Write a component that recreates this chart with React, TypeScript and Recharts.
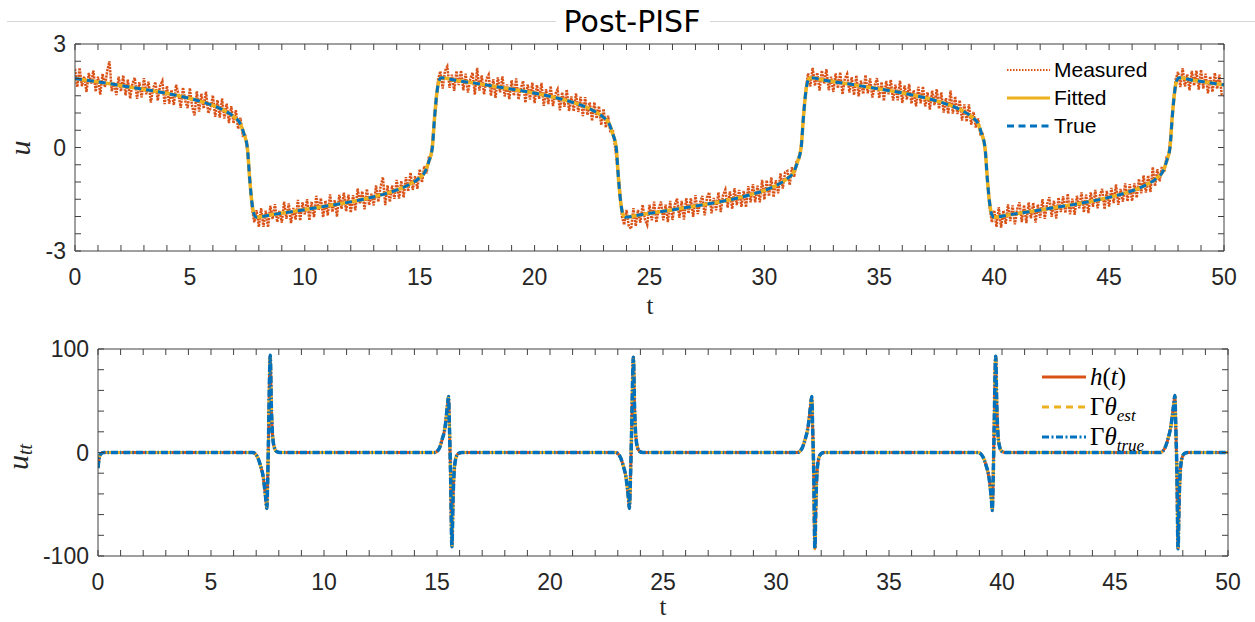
import React from 'react'
import { LineChart, Line, XAxis, YAxis, Legend } from 'recharts'

const BLUE = '#0072BD'
const RED = '#D95319'
const YELLOW = '#EDB120'
const AXIS = '#404040'
const TEXT = '#262626'
const TICK_LEN = 6
const SANS = '"Liberation Sans", Arial, sans-serif'
const SERIF = '"Liberation Serif", "Times New Roman", serif'

// axis ticks
const tTicks = [0, 1, 2, 3, 4, 5, 6, 7, 8, 9, 10, 11, 12, 13, 14, 15, 16, 17, 18, 19, 20, 21, 22, 23, 24, 25,
  26, 27, 28, 29, 30, 31, 32, 33, 34, 35, 36, 37, 38, 39, 40, 41, 42, 43, 44, 45, 46, 47, 48, 49, 50]
const tTickLabels = [0, 5, 10, 15, 20, 25, 30, 35, 40, 45, 50]
const uTicks = [-3, -2.5, -2, -1.5, -1, -0.5, 0, 0.5, 1, 1.5, 2, 2.5, 3]
const uTickLabels = [-3, 0, 3]
const uttTicks = [-100, -80, -60, -40, -20, 0, 20, 40, 60, 80, 100]
const uttTickLabels = [-100, 0, 100]

// true / fitted solution u(t)
const trueT = [0, 0.5, 1.5, 2.5, 3.5, 4.5, 5.5, 6.0, 6.5, 6.9, 7.2, 7.35, 7.5, 7.6, 7.7, 7.8, 7.9,
  8.55, 9.55, 10.55, 11.55, 12.55, 13.55, 14.05, 14.55, 14.95, 15.25, 15.4, 15.55, 15.65, 15.75, 15.85, 15.95,
  16.55, 17.55, 18.55, 19.55, 20.55, 21.55, 22.05, 22.55, 22.95, 23.25, 23.4, 23.55, 23.65, 23.75, 23.85, 23.95,
  24.6, 25.6, 26.6, 27.6, 28.6, 29.6, 30.1, 30.6, 31.0, 31.3, 31.45, 31.6, 31.7, 31.8, 31.9, 32.0,
  32.6, 33.6, 34.6, 35.6, 36.6, 37.6, 38.1, 38.6, 39.0, 39.3, 39.45, 39.6, 39.7, 39.8, 39.9, 40.0,
  40.65, 41.65, 42.65, 43.65, 44.65, 45.65, 46.15, 46.65, 47.05, 47.35, 47.5, 47.65, 47.75, 47.85, 47.95, 48.05,
  48.65, 49.65, 50]
const trueU = [2.0, 1.95, 1.85, 1.74, 1.63, 1.5, 1.33, 1.22, 1.07, 0.9, 0.68, 0.4, 0, -0.9, -1.6, -1.95, -2.02,
  -1.95, -1.85, -1.74, -1.63, -1.5, -1.33, -1.22, -1.07, -0.9, -0.68, -0.4, 0, 0.9, 1.6, 1.95, 2.02,
  1.95, 1.85, 1.74, 1.63, 1.5, 1.33, 1.22, 1.07, 0.9, 0.68, 0.4, 0, -0.9, -1.6, -1.95, -2.02,
  -1.95, -1.85, -1.74, -1.63, -1.5, -1.33, -1.22, -1.07, -0.9, -0.68, -0.4, 0, 0.9, 1.6, 1.95, 2.02,
  1.95, 1.85, 1.74, 1.63, 1.5, 1.33, 1.22, 1.07, 0.9, 0.68, 0.4, 0, -0.9, -1.6, -1.95, -2.02,
  -1.95, -1.85, -1.74, -1.63, -1.5, -1.33, -1.22, -1.07, -0.9, -0.68, -0.4, 0, 0.9, 1.6, 1.95, 2.02,
  1.95, 1.85, 1.82]

// noisy measurements, one every 0.1 from t = 0
const MEASURED_DT = 0.1
const measuredU = [
  2.28, 1.75, 2.31, 1.78, 2.06, 1.61, 2.16, 1.85, 2.23, 1.62,
  2.05, 1.53, 2.14, 1.75, 2.21, 2.50, 1.63, 1.88, 1.52, 2.05,
  1.63, 2.09, 1.51, 1.97, 1.42, 1.86, 2.02, 1.41, 1.89, 1.45,
  2.01, 1.54, 1.91, 1.30, 1.72, 1.90, 1.36, 1.79, 1.93, 1.26,
  1.78, 1.27, 1.67, 1.23, 1.82, 1.56, 1.15, 1.74, 1.35, 1.14,
  1.72, 1.18, 0.93, 1.63, 1.04, 1.56, 1.13, 1.62, 0.99, 1.15,
  1.51, 0.89, 1.37, 0.87, 1.42, 0.84, 1.27, 0.71, 1.20, 0.70,
  1.08, 0.54, 0.86, 0.35, 0.39, -0.10, -0.80, -1.75, -2.17, -1.82,
  -2.30, -1.76, -2.30, -1.83, -2.31, -1.69, -2.07, -1.64, -2.16, -1.83,
  -2.18, -1.57, -2.07, -1.62, -2.19, -1.75, -2.09, -1.52, -2.12, -1.59,
  -1.94, -1.50, -2.11, -1.57, -2.02, -1.40, -1.82, -1.47, -2.02, -1.54,
  -1.97, -1.36, -1.87, -1.53, -2.00, -1.37, -1.78, -1.31, -1.85, -1.37,
  -1.89, -1.38, -1.82, -1.19, -1.63, -1.27, -1.79, -1.20, -1.67, -1.34,
  -1.68, -1.10, -1.58, -1.12, -0.86, -1.67, -1.10, -1.58, -1.10, -1.49,
  -0.94, -1.48, -0.97, -1.45, -0.86, -1.27, -0.73, -1.23, -0.83, -1.20,
  -0.63, -1.01, -0.54, -0.75, -0.28, -0.23, 0.55, 1.13, 1.98, 2.21,
  1.71, 2.22, 2.35, 1.73, 2.11, 1.64, 2.22, 1.81, 2.23, 1.66,
  2.14, 1.59, 1.98, 2.17, 1.53, 2.31, 1.65, 2.09, 1.54, 1.98,
  2.11, 1.50, 1.98, 1.44, 2.03, 1.60, 2.06, 1.48, 1.83, 1.40,
  1.95, 1.50, 2.00, 1.39, 1.72, 1.93, 1.30, 1.83, 1.39, 1.88,
  1.29, 1.81, 1.41, 1.87, 1.21, 1.69, 1.26, 1.78, 1.20, 1.55,
  1.69, 1.08, 1.60, 1.18, 1.68, 1.06, 1.48, 1.05, 1.57, 1.03,
  1.47, 0.91, 1.46, 0.94, 1.31, 0.77, 1.31, 0.84, 1.20, 0.65,
  1.12, 0.58, 0.92, 0.44, 0.52, 0.03, -0.55, -1.13, -2.00, -2.24,
  -1.81, -2.28, -2.36, -1.76, -2.28, -1.81, -2.18, -1.66, -2.08, -2.24,
  -1.66, -2.11, -1.57, -2.17, -1.77, -1.57, -2.11, -1.66, -2.16, -1.55,
  -2.10, -1.66, -1.48, -2.04, -1.55, -2.09, -1.47, -1.91, -1.47, -2.01,
  -1.38, -1.93, -1.60, -1.40, -1.97, -1.45, -1.30, -1.91, -1.46, -1.82,
  -1.30, -1.87, -1.38, -1.22, -1.74, -1.27, -1.78, -1.18, -1.67, -1.23,
  -1.72, -1.26, -1.73, -1.12, -1.59, -1.06, -1.59, -1.11, -1.59, -0.94,
  -1.51, -0.95, -1.41, -0.87, -1.44, -0.95, -1.33, -0.75, -1.19, -0.72,
  -0.68, -1.09, -0.57, -0.85, -0.36, -0.37, 0.08, 0.80, 1.70, 2.15,
  1.77, 2.31, 1.79, 2.17, 1.65, 2.23, 1.85, 2.27, 1.66, 2.05,
  1.61, 2.15, 1.72, 2.18, 1.54, 2.00, 2.13, 1.59, 2.04, 1.52,
  2.09, 1.48, 1.94, 1.55, 2.10, 1.57, 2.00, 1.45, 1.80, 2.01,
  1.43, 1.90, 1.35, 1.93, 1.54, 1.96, 1.36, 1.82, 1.37, 1.94,
  1.29, 1.80, 1.39, 1.84, 1.27, 1.66, 1.19, 1.76, 1.28, 1.77,
  1.19, 1.60, 1.10, 1.65, 1.23, 1.69, 1.12, 1.60, 1.01, 1.43,
  0.98, 1.65, 0.98, 1.48, 0.97, 1.37, 0.78, 1.25, 0.75, 1.25,
  0.66, 1.03, 0.58, 0.84, 0.38, 0.39, -0.08, -0.80, -1.75, -2.17,
  -1.82, -2.30, -1.73, -2.32, -1.83, -2.21, -1.65, -2.13, -1.68, -2.23,
  -1.79, -1.59, -2.16, -1.67, -2.19, -1.59, -2.05, -1.60, -2.18, -1.65,
  -2.04, -1.50, -2.07, -1.64, -1.44, -2.01, -1.54, -2.06, -1.45, -1.87,
  -1.41, -1.90, -1.34, -1.94, -1.48, -1.95, -1.40, -1.76, -1.30, -1.88,
  -1.37, -1.90, -1.30, -1.72, -1.23, -1.76, -1.39, -1.20, -1.79, -1.26,
  -1.71, -1.17, -1.61, -1.07, -1.66, -1.20, -1.57, -1.04, -1.56, -1.06,
  -1.55, -1.04, -1.46, -0.91, -1.33, -0.81, -1.31, -0.81, -1.29, -0.57,
  -1.12, -0.63, -0.98, -0.55, -0.72, -0.28, -0.21, 0.55, 1.37, 1.98,
  2.19, 1.75, 2.30, 1.77, 2.12, 1.66, 2.22, 1.79, 2.23, 1.68,
  2.25, 1.71, 2.14, 1.57, 2.06, 1.61, 2.16, 1.70, 2.11, 1.54,
  1.50,
]

// second derivative u_tt (h(t), Γθ_est and Γθ_true coincide)
const uttT = [0, 0.05, 0.12, 0.25,
  6.85, 7.05, 7.18, 7.32, 7.42, 7.47, 7.51, 7.55, 7.62, 7.67, 7.72, 7.8, 7.9, 8.05,
  14.9, 15.1, 15.22, 15.36, 15.46, 15.51, 15.55, 15.6, 15.66, 15.71, 15.76, 15.84, 15.94, 16.1,
  22.9, 23.1, 23.23, 23.37, 23.47, 23.51, 23.56, 23.61, 23.69, 23.74, 23.79, 23.87, 23.97, 24.1,
  30.95, 31.15, 31.28, 31.42, 31.53, 31.58, 31.62, 31.67, 31.72, 31.77, 31.82, 31.9, 32.0, 32.15,
  38.95, 39.15, 39.29, 39.43, 39.53, 39.57, 39.61, 39.65, 39.72, 39.77, 39.82, 39.9, 40.0, 40.15,
  47.0, 47.2, 47.33, 47.47, 47.59, 47.65, 47.69, 47.74, 47.79, 47.84, 47.89, 47.97, 48.07, 48.22,
  50]
const uttV = [-15, -6, -1.5, 0,
  0, -4, -12, -25, -44, -54, -25, 20, 94, 45, 18, 5, 1, 0,
  0, 4, 12, 25, 45, 54, 25, -20, -91, -45, -18, -5, -1, 0,
  0, -4, -12, -25, -44, -54, -25, 20, 92, 45, 18, 5, 1, 0,
  0, 4, 12, 25, 45, 54, 25, -20, -93, -45, -18, -5, -1, 0,
  0, -4, -12, -25, -45, -56, -25, 20, 93, 45, 18, 5, 1, 0,
  0, 4, 12, 25, 45, 55, 25, -20, -93, -45, -18, -5, -1, 0,
  0]

const trueData = trueT.map((t, i) => ({ t, u: trueU[i] }))
const measuredData = measuredU.map((u, i) => ({ t: +(i * MEASURED_DT).toFixed(1), u }))
const uttData = uttT.map((t, i) => ({ t, h: uttV[i], est: uttV[i], tru: uttV[i] }))

// MATLAB style ticks: pointing into the box, labels only on some
const bottomTick = (labels: number[]) => (p: any) => {
  const v = p.payload.value
  return (
    <g>
      <line x1={p.x} x2={p.x} y1={p.y} y2={p.y - TICK_LEN} stroke={AXIS} />
      {labels.includes(v) && (
        <text x={p.x} y={p.y + 34} textAnchor="middle" fontSize={23} fontFamily={SANS} fill={TEXT}>{v}</text>
      )}
    </g>
  )
}
const topTick = (p: any) => (
  <line x1={p.x} x2={p.x} y1={p.y} y2={p.y + TICK_LEN} stroke={AXIS} />
)
const leftTick = (labels: number[]) => (p: any) => {
  const v = p.payload.value
  return (
    <g>
      <line x1={p.x} x2={p.x + TICK_LEN} y1={p.y} y2={p.y} stroke={AXIS} />
      {labels.includes(v) && (
        <text x={p.x - 9} y={p.y + 8} textAnchor="end" fontSize={23} fontFamily={SANS} fill={TEXT}>{v}</text>
      )}
    </g>
  )
}
const rightTick = (p: any) => (
  <line x1={p.x} x2={p.x - TICK_LEN} y1={p.y} y2={p.y} stroke={AXIS} />
)

type SampleStyle = { stroke: string; width: number; dash?: string }

const topLegendStyles: Record<string, SampleStyle> = {
  Measured: { stroke: RED, width: 2, dash: '1.5 1.5' },
  Fitted: { stroke: YELLOW, width: 3 },
  True: { stroke: BLUE, width: 3, dash: '7 4.5' },
}
const bottomLegendStyles: Record<string, SampleStyle> = {
  'h(t)': { stroke: RED, width: 3 },
  'Γθ_est': { stroke: YELLOW, width: 3, dash: '7 5' },
  'Γθ_true': { stroke: BLUE, width: 3, dash: '7 2.5 2 2.5' },
}

const mathLabel = (name: string) => {
  const it = { fontStyle: 'italic' as const }
  if (name === 'h(t)') return <span><span style={it}>h</span>(<span style={it}>t</span>)</span>
  const sub = name.split('_')[1]
  return (
    <span>Γ<span style={it}>θ</span><span style={{ ...it, fontSize: 17, position: 'relative', top: 6 }}>{sub}</span></span>
  )
}

function LegendBox(props: any) {
  const { payload, styles, rowH, sampleW, font, math } = props
  const order = Object.keys(styles)
  const items = [...(payload || [])].sort((a: any, b: any) => order.indexOf(a.value) - order.indexOf(b.value))
  return (
    <div>
      {items.map((e: any) => {
        const s: SampleStyle = styles[e.value]
        return (
          <div key={e.value} style={{ display: 'flex', alignItems: 'center', height: rowH }}>
            <svg width={sampleW} height={10} style={{ flex: 'none' }}>
              <line x1={0} x2={sampleW} y1={5} y2={5} stroke={s.stroke} strokeWidth={s.width} strokeDasharray={s.dash} />
            </svg>
            <span style={{ marginLeft: 4, font, color: '#000', whiteSpace: 'nowrap' }}>
              {math ? mathLabel(e.value) : e.value}
            </span>
          </div>
        )
      })}
    </div>
  )
}

function TopPlot() {
  return (
    <LineChart width={1255} height={310} margin={{ top: 43, right: 30, bottom: 58, left: 74 }}>
      <XAxis xAxisId="b" type="number" dataKey="t" domain={[0, 50]} ticks={tTicks} interval={0} height={1}
        tickSize={0} tickMargin={0} tick={bottomTick(tTickLabels)} axisLine={{ stroke: AXIS }} allowDataOverflow />
      <XAxis xAxisId="top" orientation="top" type="number" dataKey="t" domain={[0, 50]} ticks={tTicks} interval={0}
        height={1} tickSize={0} tickMargin={0} tick={topTick} axisLine={{ stroke: AXIS }} allowDataOverflow />
      <YAxis yAxisId="l" type="number" domain={[-3, 3]} ticks={uTicks} interval={0} width={1}
        tickSize={0} tickMargin={0} tick={leftTick(uTickLabels)} axisLine={{ stroke: AXIS }} allowDataOverflow />
      <YAxis yAxisId="r" orientation="right" type="number" domain={[-3, 3]} ticks={uTicks} interval={0} width={1}
        tickSize={0} tickMargin={0} tick={rightTick} axisLine={{ stroke: AXIS }} allowDataOverflow />
      <Line xAxisId="b" yAxisId="l" data={measuredData} dataKey="u" name="Measured" type="linear" stroke={RED}
        strokeWidth={2.5} strokeDasharray="2.2 1" dot={false} isAnimationActive={false} />
      <Line xAxisId="b" yAxisId="l" data={trueData} dataKey="u" name="Fitted" type="monotone" stroke={YELLOW}
        strokeWidth={3.5} dot={false} isAnimationActive={false} />
      <Line xAxisId="b" yAxisId="l" data={trueData} dataKey="u" name="True" type="monotone" stroke={BLUE}
        strokeWidth={3} strokeDasharray="7 5" dot={false} isAnimationActive={false} />
      <Legend layout="vertical" align="center" verticalAlign="middle"
        wrapperStyle={{ left: 1007, top: 56, width: 200 }}
        content={(p: any) => <LegendBox payload={p.payload} styles={topLegendStyles} rowH={28} sampleW={43} font={`21px ${SANS}`} />} />
    </LineChart>
  )
}

function BottomPlot() {
  return (
    <LineChart width={1255} height={312} margin={{ top: 38, right: 26, bottom: 65, left: 97 }}>
      <XAxis xAxisId="b" type="number" dataKey="t" domain={[0, 50]} ticks={tTicks} interval={0} height={1}
        tickSize={0} tickMargin={0} tick={bottomTick(tTickLabels)} axisLine={{ stroke: AXIS }} allowDataOverflow />
      <XAxis xAxisId="top" orientation="top" type="number" dataKey="t" domain={[0, 50]} ticks={tTicks} interval={0}
        height={1} tickSize={0} tickMargin={0} tick={topTick} axisLine={{ stroke: AXIS }} allowDataOverflow />
      <YAxis yAxisId="l" type="number" domain={[-100, 100]} ticks={uttTicks} interval={0} width={1}
        tickSize={0} tickMargin={0} tick={leftTick(uttTickLabels)} axisLine={{ stroke: AXIS }} allowDataOverflow />
      <YAxis yAxisId="r" orientation="right" type="number" domain={[-100, 100]} ticks={uttTicks} interval={0} width={1}
        tickSize={0} tickMargin={0} tick={rightTick} axisLine={{ stroke: AXIS }} allowDataOverflow />
      <Line xAxisId="b" yAxisId="l" data={uttData} dataKey="h" name="h(t)" type="monotone" stroke={RED}
        strokeWidth={3} dot={false} isAnimationActive={false} />
      <Line xAxisId="b" yAxisId="l" data={uttData} dataKey="est" name="Γθ_est" type="monotone" stroke={YELLOW}
        strokeWidth={3} strokeDasharray="6 4" dot={false} isAnimationActive={false} />
      <Line xAxisId="b" yAxisId="l" data={uttData} dataKey="tru" name="Γθ_true" type="monotone" stroke={BLUE}
        strokeWidth={3.5} strokeDasharray="7 2 1.5 2" dot={false} isAnimationActive={false} />
      <Legend layout="vertical" align="center" verticalAlign="middle"
        wrapperStyle={{ left: 1042, top: 52, width: 200 }}
        content={(p: any) => <LegendBox payload={p.payload} styles={bottomLegendStyles} rowH={30} sampleW={44} font={`25px ${SERIF}`} math />} />
    </LineChart>
  )
}

export default function App() {
  return (
    <div style={{ position: 'absolute', left: 0, top: 0, width: 1255, height: 622, background: '#fff', overflow: 'hidden' }}>
      <div style={{ position: 'absolute', left: 0, top: 0 }}><TopPlot /></div>
      <div style={{ position: 'absolute', left: 0, top: 310 }}><BottomPlot /></div>
      <svg width={1255} height={622} style={{ position: 'absolute', left: 0, top: 0, pointerEvents: 'none' }}>
        <line x1={7} x2={1255} y1={21.5} y2={21.5} stroke="#d6d6d6" strokeWidth={1} />
        <rect x={556} y={5} width={154} height={32} fill="#fff" />
        <text x={632} y={32} textAnchor="middle" fontFamily='"DejaVu Sans", Verdana, sans-serif' fontSize={30} fill="#000">Post-PISF</text>
        <text transform="translate(30,148) rotate(-90)" textAnchor="middle" fontFamily={SERIF} fontStyle="italic" fontSize={30} fill={TEXT}>u</text>
        <text transform="translate(28,457) rotate(-90)" textAnchor="middle" fontFamily={SERIF} fontStyle="italic" fontSize={30} fill={TEXT}>
          u<tspan fontSize={20} dy={4}>tt</tspan>
        </text>
        <text x={650} y={314} textAnchor="middle" fontFamily={SERIF} fontSize={25} fill={TEXT}>t</text>
        <text x={663} y={615} textAnchor="middle" fontFamily={SERIF} fontSize={25} fill={TEXT}>t</text>
      </svg>
    </div>
  )
}
